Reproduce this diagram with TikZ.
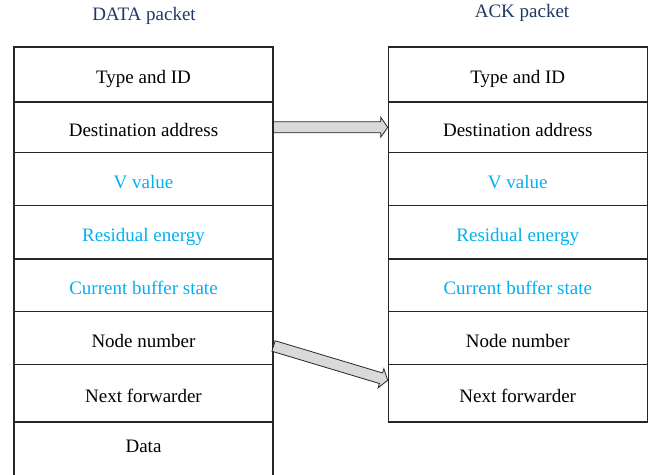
\documentclass[tikz,border=0pt]{standalone}
\usepackage{fontspec}
\setmainfont{Liberation Serif}
\usetikzlibrary{calc}
\definecolor{titleblue}{HTML}{1F3864}
\definecolor{fieldblue}{HTML}{00B0F0}
\definecolor{arrowgray}{HTML}{D9D9D9}
\tikzset{
  cell/.style={draw=black!85, line width=1.1pt, minimum width=259pt, inner sep=0pt,
    text height=18pt, text depth=0pt,
    font=\fontsize{19}{22}\selectfont, text=black},
  vfield/.style={cell, text=fieldblue},
  ptitle/.style={font=\fontsize{19}{22}\selectfont, text=titleblue, inner sep=0pt},
}
% broad block arrow from #1 to #2
\newcommand{\blockarrow}[2]{%
  \coordinate (hb) at ($(#2)!7pt!(#1)$);
  \draw[fill=arrowgray, draw=black!85, line width=0.8pt, line join=miter]
    ($(#1)!5.5pt!90:(#2)$) -- ($(hb)!5.5pt!-90:(#1)$) -- ($(hb)!10pt!-90:(#1)$) -- (#2)
    -- ($(hb)!10pt!90:(#1)$) -- ($(hb)!5.5pt!90:(#1)$) -- ($(#1)!5.5pt!-90:(#2)$) -- cycle;
}
\begin{document}
\begin{tikzpicture}[x=1pt, y=-1pt]
\useasboundingbox (0,0) rectangle (655,474);
\clip (0,0) rectangle (655,474);

% titles
\node[ptitle] (tdata) at (144,16) {DATA packet};
\node[ptitle] (tack) at (522,13) {ACK packet};

% DATA packet fields
\node[cell, minimum height=55pt]   (d1) at (143.5,74.5)   {Type and ID};
\node[cell, minimum height=50.5pt] (d2) at (143.5,127.25) {Destination address};
\node[vfield, minimum height=53pt] (d3) at (143.5,179)    {V value};
\node[vfield, minimum height=53.5pt] (d4) at (143.5,232.25) {Residual energy};
\node[vfield, minimum height=52.5pt] (d5) at (143.5,285.25) {Current buffer state};
\node[cell, minimum height=53pt]   (d6) at (143.5,338)    {Node number};
\node[cell, minimum height=57.5pt] (d7) at (143.5,393.25) {Next forwarder};
\node[cell, minimum height=60pt, text depth=18pt] (d8) at (143.5,452) {Data};

% ACK packet fields
\node[cell, minimum height=55pt]   (a1) at (517.75,74.5)   {Type and ID};
\node[cell, minimum height=50.5pt] (a2) at (517.75,127.25) {Destination address};
\node[vfield, minimum height=53pt] (a3) at (517.75,179)    {V value};
\node[vfield, minimum height=53.5pt] (a4) at (517.75,232.25) {Residual energy};
\node[vfield, minimum height=52.5pt] (a5) at (517.75,285.25) {Current buffer state};
\node[cell, minimum height=53pt]   (a6) at (517.75,338)    {Node number};
\node[cell, minimum height=57.5pt] (a7) at (517.75,393.25) {Next forwarder};

% copied fields
\coordinate (s1) at (d2.east);
\coordinate (e1) at (a2.west);
\blockarrow{s1}{e1}
\coordinate (s2) at ($(d6.east)+(0,8)$);
\coordinate (e2) at ($(a7.west)+(0,-13)$);
\blockarrow{s2}{e2}
\end{tikzpicture}
\end{document}
